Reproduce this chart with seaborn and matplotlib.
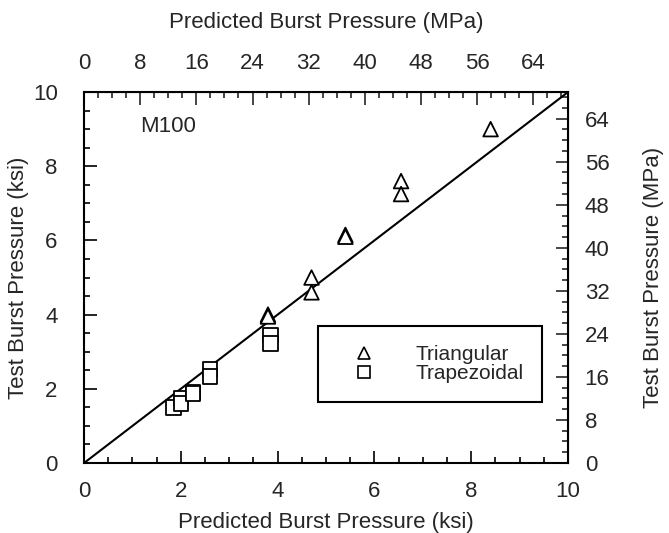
import matplotlib
matplotlib.use("Agg")
import matplotlib.pyplot as plt
import seaborn as sns
import pandas as pd
from matplotlib.ticker import MultipleLocator
from matplotlib.lines import Line2D

# Data (ksi)
tri_pred = [8.4, 6.55, 6.55, 5.4, 5.4, 4.7, 4.7, 3.8, 3.8]
tri_test = [9.0, 7.6, 7.25, 6.15, 6.1, 5.0, 4.6, 4.0, 3.95]
trap_pred = [1.85, 2.0, 2.0, 2.25, 2.25, 2.6, 2.6, 3.85, 3.85]
trap_test = [1.5, 1.75, 1.6, 1.92, 1.88, 2.52, 2.33, 3.45, 3.22]
ref_line_x = [0, 10]
ref_line_y = [0, 10]
mpa_ticks = [0, 8, 16, 24, 32, 40, 48, 56, 64]
KSI_TO_MPA = 6.894757

df = pd.DataFrame({
    "pred": tri_pred + trap_pred,
    "test": tri_test + trap_test,
    "type": ["Triangular"] * len(tri_pred) + ["Trapezoidal"] * len(trap_pred),
})

sns.set_style("ticks")
plt.rcParams["font.family"] = ["Liberation Sans", "DejaVu Sans"]
FS = 16

fig = plt.figure(figsize=(6.69, 5.33), dpi=100)
ax = fig.add_axes([0.1256, 0.1313, 0.7235, 0.696])

ax.plot(ref_line_x, ref_line_y, color="black", lw=1.5, zorder=1)
sns.scatterplot(data=df, x="pred", y="test", style="type",
                markers={"Triangular": "^", "Trapezoidal": "s"},
                s=110, facecolor="white", edgecolor="black", linewidth=1.3,
                ax=ax, zorder=3, legend=False)

ax.set_xlim(0, 10)
ax.set_ylim(0, 10)
ax.xaxis.set_major_locator(MultipleLocator(2))
ax.xaxis.set_minor_locator(MultipleLocator(0.5))
ax.yaxis.set_major_locator(MultipleLocator(2))
ax.yaxis.set_minor_locator(MultipleLocator(0.5))
ax.tick_params(which="both", direction="in", color="black", width=1.2)
ax.tick_params(which="major", length=9, labelsize=FS)
ax.tick_params(which="minor", length=4)
ax.tick_params(axis="x", which="major", pad=13)
ax.tick_params(axis="y", which="major", pad=19)
for sp in ax.spines.values():
    sp.set_color("black")
    sp.set_linewidth(1.5)

ax.set_xlabel("Predicted Burst Pressure (ksi)", fontsize=FS, labelpad=7)
ax.set_ylabel("Test Burst Pressure (ksi)", fontsize=FS, labelpad=3)

f = lambda v: v * KSI_TO_MPA
g = lambda v: v / KSI_TO_MPA
top = ax.secondary_xaxis("top", functions=(f, g))
top.set_xticks(mpa_ticks)
top.xaxis.set_minor_locator(MultipleLocator(2))
top.tick_params(which="both", direction="in", width=1.2)
top.tick_params(which="major", length=9, labelsize=FS, pad=13)
top.tick_params(which="minor", length=4)
top.set_xlabel("Predicted Burst Pressure (MPa)", fontsize=FS, labelpad=18)

right = ax.secondary_yaxis("right", functions=(f, g))
right.set_yticks(mpa_ticks)
right.yaxis.set_minor_locator(MultipleLocator(2))
right.tick_params(which="both", direction="in", width=1.2)
right.tick_params(which="major", length=9, labelsize=FS, pad=12)
right.tick_params(which="minor", length=4)
right.set_ylabel("Test Burst Pressure (MPa)", fontsize=FS, labelpad=24)

ax.text(1.16, 9.06, "M100", fontsize=FS, va="center", ha="left")

handles = [
    Line2D([], [], marker="^", ls="none", ms=8, mfc="white", mec="black", mew=1.2),
    Line2D([], [], marker="s", ls="none", ms=8, mfc="white", mec="black", mew=1.2),
]
leg = ax.legend(handles, ["Triangular", "Trapezoidal"], loc="center",
                bbox_to_anchor=(0.715, 0.267), fontsize=15, frameon=True,
                fancybox=False, edgecolor="black", framealpha=1,
                borderpad=0.9, labelspacing=0.0, handletextpad=1.2,
                borderaxespad=0, handlelength=2.6)
leg.get_frame().set_linewidth(1.5)

fig.savefig("out.png", dpi=100)
